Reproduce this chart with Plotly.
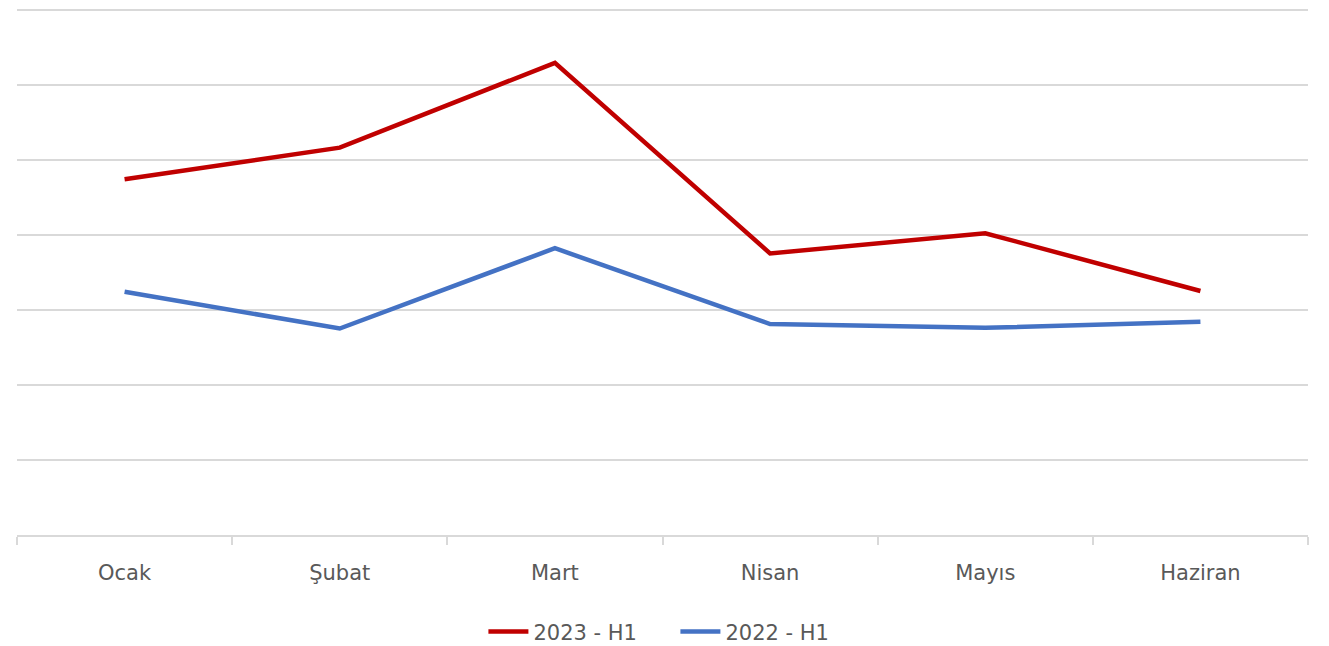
import plotly.graph_objects as go

months = ["Ocak", "Şubat", "Mart", "Nisan", "Mayıs", "Haziran"]
series_2023 = [4.74, 5.16, 6.29, 3.75, 4.02, 3.25]
series_2022 = [3.24, 2.75, 3.82, 2.81, 2.76, 2.84]
name_2023 = "2023 - H1"
name_2022 = "2022 - H1"

fig = go.Figure()
fig.add_trace(go.Scatter(x=months, y=series_2023, mode="lines", name=name_2023,
                         line=dict(color="#C00000", width=4.5)))
fig.add_trace(go.Scatter(x=months, y=series_2022, mode="lines", name=name_2022,
                         line=dict(color="#4472C4", width=4.5)))

fig.update_layout(
    width=1329, height=646,
    margin=dict(l=9, r=29, t=0, b=119),
    paper_bgcolor="white", plot_bgcolor="white",
    font=dict(family="DejaVu Sans, sans-serif", size=21, color="#595959"),
    legend=dict(orientation="h", x=0.51, xanchor="center", y=-0.184, yanchor="middle",
                font=dict(size=21, color="#595959"), itemwidth=40,
                entrywidth=137, entrywidthmode="pixels"),
    showlegend=True,
)
fig.update_xaxes(type="category", range=[-0.5, 5.5], tickson="boundaries",
                 ticks="outside", ticklen=8, tickwidth=2, tickcolor="#d9d9d9",
                 showline=True, linecolor="#d9d9d9", linewidth=2,
                 showgrid=False, ticklabelstandoff=18,
                 tickfont=dict(size=21, color="#595959"))
fig.update_yaxes(range=[0, 7.02], tickvals=[1, 2, 3, 4, 5, 6, 7], showticklabels=False,
                 showgrid=True, gridcolor="#d9d9d9", gridwidth=2, zeroline=False)

fig.write_html("out.html")
